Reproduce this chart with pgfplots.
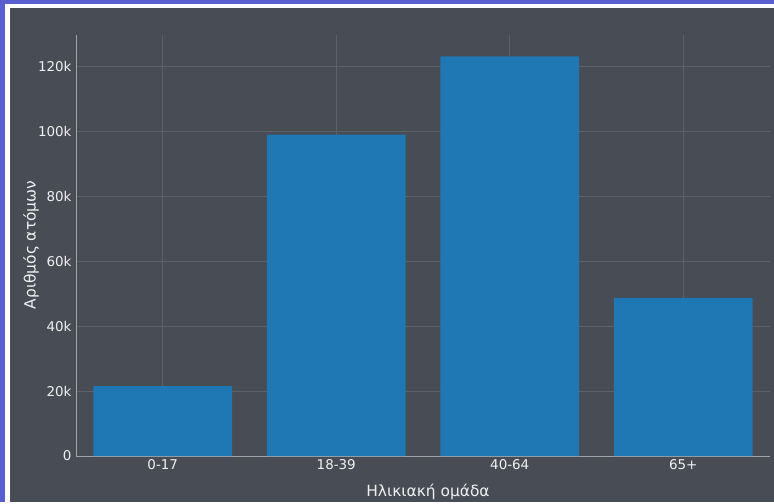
\documentclass[border=0pt]{standalone}
\usepackage{fontspec}
\setmainfont{DejaVu Sans}
\usepackage{pgfplots}
\pgfplotsset{compat=1.18}
\definecolor{bg}{HTML}{474C55}
\definecolor{frameblue}{HTML}{5A5FCF}
\definecolor{gridc}{HTML}{5C6068}
\definecolor{axc}{HTML}{A0A3A8}
\definecolor{txt}{HTML}{F0F0F0}
\definecolor{barc}{HTML}{1F77B4}
\begin{document}
\begin{tikzpicture}[x=1bp,y=1bp]
\fill[frameblue] (0,0) rectangle (774,502);
\fill[white] (5,0) rectangle (774,498);
\fill[bg] (10,0) rectangle (774,494);
\begin{axis}[
  at={(76bp,46bp)}, anchor=south west,
  scale only axis, width=694bp, height=421bp,
  xmin=-0.5, xmax=3.5, ymin=0, ymax=129600,
  axis x line*=bottom, axis y line*=left,
  axis line style={axc, line width=1bp, -},
  major tick length=0pt,
  xtick={0,1,2,3}, xticklabels={0-17,18-39,40-64,65+},
  ytick={0,20000,40000,60000,80000,100000,120000},
  yticklabels={0,20k,40k,60k,80k,100k,120k},
  scaled y ticks=false,
  grid=major, major grid style={gridc, line width=0.9bp},
  tick label style={txt, font=\fontsize{13.5}{15}\selectfont},
  yticklabel style={xshift=-1bp},
  /pgf/number format/assume math mode=true,
  ybar, bar width=0.8,
]
\addplot[fill=barc, draw=none] coordinates {(0,21500) (1,98900) (2,123000) (3,48700)};
\end{axis}
\node[txt, rotate=90, font=\fontsize{15.5}{17}\selectfont] at (31bp,257bp) {Αριθμός ατόμων};
\node[txt, font=\fontsize{15.5}{17}\selectfont] at (428bp,10bp) {Ηλικιακή ομάδα};
\end{tikzpicture}
\end{document}
